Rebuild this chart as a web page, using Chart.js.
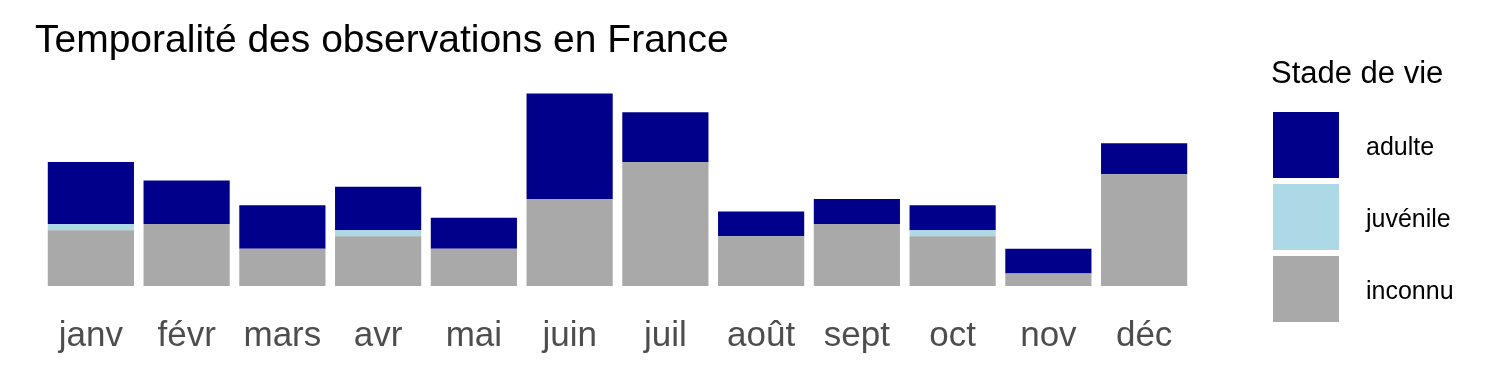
<!DOCTYPE html>
<html>
<head>
<meta charset="utf-8">
<script src="https://cdn.jsdelivr.net/npm/chart.js@4"></script>
<style>
  html, body { margin: 0; padding: 0; background: #ffffff; }
  #wrap { width: 1500px; height: 375px; position: relative; }
</style>
</head>
<body>
<div id="wrap"><canvas id="c" width="1500" height="375"></canvas></div>
<script>
const chartTitle = 'Temporalité des observations en France';
const legendTitle = 'Stade de vie';
const months = ['janv', 'févr', 'mars', 'avr', 'mai', 'juin', 'juil', 'août', 'sept', 'oct', 'nov', 'déc'];
const inconnu  = [9, 10, 6, 8, 6, 14, 20, 8, 10, 8, 2, 18];
const juvenile = [1, 0, 0, 1, 0, 0, 0, 0, 0, 1, 0, 0];
const adulte   = [10, 7, 7, 7, 5, 17, 8, 4, 4, 4, 4, 5];

const seriesNames = ['inconnu', 'juvénile', 'adulte'];
const seriesColors = ['#A9A9A9', '#ADD8E6', '#00008B'];
const seriesValues = [inconnu, juvenile, adulte];

const totals = months.map((_, i) => inconnu[i] + juvenile[i] + adulte[i]);
const yMax = Math.max(...totals) * 1.05;

const FONT = '"Liberation Sans", Arial, sans-serif';

const sidePlugin = {
  id: 'sideText',
  afterDraw(chart) {
    const ctx = chart.ctx;
    ctx.save();
    ctx.fillStyle = '#000000';
    ctx.font = '39px ' + FONT;
    ctx.textAlign = 'left';
    ctx.textBaseline = 'alphabetic';
    ctx.fillText(chartTitle, 35, 52);
    ctx.font = '31px ' + FONT;
    ctx.fillText(legendTitle, 1271, 83);
    const order = [2, 1, 0];
    const boxX = 1273, boxSize = 66, gap = 6, top0 = 112;
    ctx.font = '25px ' + FONT;
    ctx.textBaseline = 'middle';
    order.forEach((di, k) => {
      const y = top0 + k * (boxSize + gap);
      ctx.fillStyle = seriesColors[di];
      ctx.fillRect(boxX, y, boxSize, boxSize);
      ctx.fillStyle = '#000000';
      ctx.fillText(seriesNames[di], 1366, y + boxSize / 2 + 3);
    });
    ctx.restore();
  }
};

new Chart(document.getElementById('c'), {
  type: 'bar',
  data: {
    labels: months,
    datasets: seriesValues.map((vals, i) => ({
      label: seriesNames[i],
      data: vals,
      backgroundColor: seriesColors[i],
      borderWidth: 0,
      categoryPercentage: 0.9,
      barPercentage: 1.0
    }))
  },
  options: {
    responsive: false,
    animation: false,
    layout: { padding: { left: 43, right: 308, top: 84, bottom: 20 } },
    plugins: {
      legend: { display: false },
      title: { display: false },
      tooltip: { enabled: false }
    },
    scales: {
      x: {
        stacked: true,
        grid: { display: false, drawTicks: false },
        border: { display: false },
        afterFit(scale) { scale.height = 69; },
        ticks: {
          color: '#4D4D4D',
          font: { family: FONT, size: 35 },
          padding: 29,
          maxRotation: 0,
          autoSkip: false
        }
      },
      y: {
        stacked: true,
        display: false,
        min: 0,
        max: yMax
      }
    }
  },
  plugins: [sidePlugin]
});
</script>
</body>
</html>
